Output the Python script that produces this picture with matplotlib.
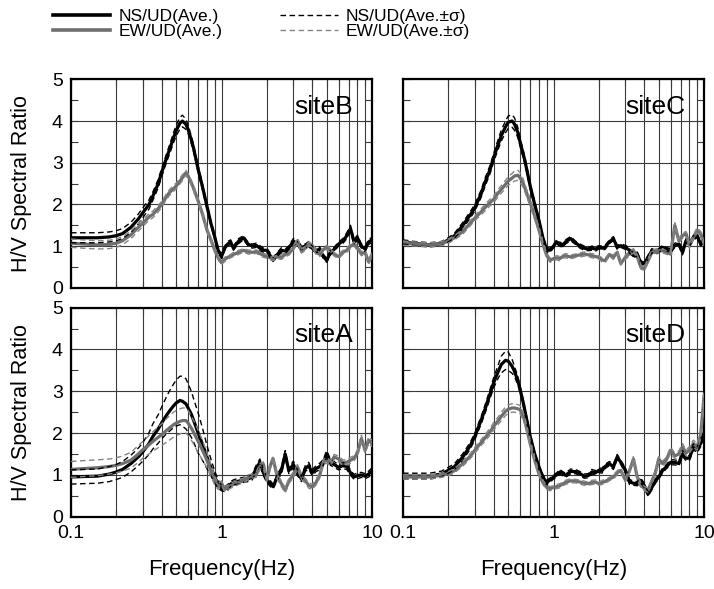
import numpy as np
import matplotlib
matplotlib.use("Agg")
import matplotlib.pyplot as plt
from matplotlib.lines import Line2D
from matplotlib.ticker import FixedLocator, FixedFormatter, NullFormatter, MultipleLocator

plt.rcParams['font.family'] = ['Liberation Sans', 'DejaVu Sans']

# -------------------------
# DATA
# -------------------------
FREQ = [0.10, 0.12, 0.15, 0.18, 0.20, 0.22, 0.25, 0.28, 0.30, 0.33, 0.35, 0.38, 0.40, 0.43, 0.45,
        0.48, 0.50, 0.53, 0.55, 0.58, 0.60, 0.63, 0.65, 0.70, 0.75, 0.80, 0.85, 0.90, 0.95,
        1.0, 1.05, 1.1, 1.15, 1.2, 1.3, 1.4, 1.5, 1.6, 1.7, 1.8, 1.9, 2.0, 2.1, 2.2, 2.35, 2.5,
        2.65, 2.8, 3.0, 3.2, 3.4, 3.6, 3.8, 4.0, 4.25, 4.5, 4.75, 5.0, 5.3, 5.6, 6.0, 6.4, 6.8,
        7.2, 7.6, 8.0, 8.5, 9.0, 9.5, 10.0]

# siteB
ns_b = [1.20, 1.20, 1.20, 1.22, 1.25, 1.30, 1.45, 1.65, 1.80, 2.00, 2.20, 2.50, 2.76, 3.10, 3.30,
        3.60, 3.77, 3.95, 4.00, 3.92, 3.80, 3.55, 3.37, 2.84, 2.40, 1.96, 1.55, 1.23, 0.90,
        0.75, 0.95, 1.05, 1.10, 0.95, 1.12, 1.20, 1.05, 1.00, 1.02, 0.95, 0.90, 0.90, 0.78, 0.68,
        0.80, 0.90, 0.88, 0.95, 1.12, 1.05, 0.97, 1.00, 1.05, 0.95, 0.90, 0.92, 0.75, 0.66, 0.85,
        0.92, 1.05, 1.12, 1.25, 1.42, 1.10, 1.20, 1.00, 0.93, 1.10, 1.15]
ns_b_sd = [0.12, 0.12, 0.12, 0.12, 0.12, 0.12, 0.12, 0.12, 0.12, 0.11, 0.10, 0.10, 0.10, 0.10, 0.11,
           0.12, 0.13, 0.14, 0.14, 0.12, 0.10, 0.09, 0.08, 0.08, 0.07, 0.06, 0.05, 0.05, 0.05,
           0.05, 0.05, 0.06, 0.05, 0.05, 0.06, 0.05, 0.04, 0.05, 0.05, 0.06, 0.05, 0.05, 0.06, 0.05,
           0.05, 0.06, 0.05, 0.05, 0.06, 0.06, 0.05, 0.05, 0.06, 0.05, 0.05, 0.06, 0.05, 0.05, 0.06,
           0.05, 0.05, 0.06, 0.07, 0.08, 0.06, 0.06, 0.05, 0.06, 0.06, 0.06]
ew_b = [1.07, 1.05, 1.03, 1.04, 1.07, 1.13, 1.27, 1.45, 1.55, 1.70, 1.76, 1.90, 2.00, 2.18, 2.28,
        2.38, 2.44, 2.56, 2.64, 2.76, 2.68, 2.52, 2.40, 2.08, 1.75, 1.39, 1.15, 0.91, 0.72,
        0.60, 0.68, 0.73, 0.76, 0.80, 0.85, 0.90, 0.86, 0.85, 0.87, 0.82, 0.78, 0.75, 0.72, 0.70,
        0.74, 0.73, 0.80, 0.82, 0.95, 1.13, 0.88, 0.95, 1.05, 1.02, 0.85, 0.80, 0.92, 0.97, 0.90,
        0.80, 0.75, 0.85, 0.90, 1.00, 1.05, 0.95, 0.82, 0.85, 0.62, 0.80]
ew_b_sd = [0.10, 0.10, 0.10, 0.10, 0.10, 0.10, 0.09, 0.09, 0.08, 0.08, 0.08, 0.08, 0.07, 0.07, 0.07,
           0.07, 0.07, 0.07, 0.07, 0.06, 0.06, 0.06, 0.06, 0.06, 0.05, 0.05, 0.05, 0.05, 0.05,
           0.04, 0.05, 0.05, 0.04, 0.05, 0.05, 0.04, 0.05, 0.05, 0.04, 0.05, 0.05, 0.04, 0.05, 0.05,
           0.04, 0.05, 0.05, 0.04, 0.05, 0.06, 0.05, 0.05, 0.05, 0.04, 0.05, 0.05, 0.05, 0.05, 0.05,
           0.04, 0.05, 0.05, 0.05, 0.06, 0.05, 0.05, 0.05, 0.05, 0.05, 0.05]

# siteC
ns_c = [1.10, 1.06, 1.03, 1.06, 1.15, 1.25, 1.50, 1.75, 1.92, 2.25, 2.52, 2.85, 3.12, 3.45, 3.65,
        3.86, 3.97, 4.00, 3.93, 3.72, 3.49, 3.20, 3.00, 2.44, 2.00, 1.62, 1.20, 0.92, 0.90,
        1.00, 1.10, 1.05, 1.01, 1.10, 1.18, 1.08, 1.00, 0.95, 0.93, 0.95, 0.93, 0.97, 0.95, 0.97,
        1.10, 1.18, 0.97, 1.01, 0.97, 0.90, 0.77, 0.81, 0.60, 0.57, 0.73, 0.89, 0.85, 0.89, 0.97,
        0.93, 0.89, 1.02, 1.05, 0.85, 1.13, 1.05, 1.20, 1.25, 1.05, 1.13]
ns_c_sd = [0.05, 0.05, 0.05, 0.05, 0.05, 0.06, 0.07, 0.08, 0.08, 0.09, 0.10, 0.10, 0.10, 0.12, 0.13,
           0.14, 0.15, 0.15, 0.15, 0.12, 0.10, 0.09, 0.08, 0.07, 0.06, 0.06, 0.05, 0.05, 0.05,
           0.04, 0.05, 0.05, 0.04, 0.05, 0.05, 0.04, 0.05, 0.05, 0.04, 0.05, 0.05, 0.04, 0.05, 0.05,
           0.04, 0.05, 0.05, 0.04, 0.05, 0.06, 0.05, 0.05, 0.05, 0.04, 0.05, 0.05, 0.05, 0.05, 0.05,
           0.04, 0.05, 0.05, 0.05, 0.06, 0.05, 0.05, 0.05, 0.05, 0.05, 0.05]
ew_c = [1.07, 1.05, 1.03, 1.06, 1.12, 1.20, 1.35, 1.55, 1.67, 1.82, 1.92, 2.05, 2.12, 2.28, 2.36,
        2.48, 2.56, 2.63, 2.68, 2.70, 2.64, 2.50, 2.36, 2.04, 1.72, 1.39, 1.05, 0.78, 0.66,
        0.70, 0.72, 0.70, 0.75, 0.77, 0.74, 0.77, 0.79, 0.81, 0.79, 0.77, 0.75, 0.73, 0.67, 0.65,
        0.80, 0.73, 0.85, 0.58, 0.73, 0.82, 0.89, 0.75, 0.50, 0.45, 0.65, 0.85, 0.88, 0.89, 0.89,
        0.85, 0.81, 1.50, 1.13, 1.25, 1.30, 1.00, 1.21, 1.38, 1.30, 1.05]
ew_c_sd = [0.05, 0.05, 0.05, 0.05, 0.05, 0.05, 0.06, 0.06, 0.06, 0.07, 0.08, 0.08, 0.08, 0.09, 0.09,
           0.10, 0.10, 0.11, 0.12, 0.12, 0.12, 0.10, 0.09, 0.08, 0.07, 0.06, 0.05, 0.05, 0.05,
           0.04, 0.05, 0.05, 0.04, 0.05, 0.05, 0.04, 0.05, 0.05, 0.04, 0.05, 0.05, 0.04, 0.05, 0.05,
           0.04, 0.05, 0.05, 0.04, 0.05, 0.06, 0.05, 0.05, 0.05, 0.04, 0.05, 0.05, 0.05, 0.05, 0.05,
           0.04, 0.05, 0.06, 0.05, 0.06, 0.05, 0.05, 0.05, 0.06, 0.05, 0.05]

# siteA
ns_a = [0.95, 0.96, 0.97, 1.02, 1.07, 1.13, 1.27, 1.43, 1.55, 1.75, 1.92, 2.10, 2.24, 2.42, 2.52,
        2.65, 2.72, 2.78, 2.76, 2.70, 2.60, 2.45, 2.32, 2.00, 1.72, 1.43, 1.18, 0.95, 0.78,
        0.68, 0.66, 0.70, 0.78, 0.82, 0.85, 0.88, 0.90, 0.95, 1.15, 1.30, 1.05, 0.88, 0.80, 0.72,
        0.95, 1.10, 1.50, 1.10, 1.25, 1.05, 0.90, 1.15, 1.22, 1.05, 1.15, 1.20, 1.30, 1.50, 1.30,
        1.25, 1.18, 1.22, 1.20, 1.05, 0.95, 0.98, 1.00, 0.97, 1.02, 1.10]
ns_a_sd = [0.17, 0.17, 0.17, 0.18, 0.18, 0.19, 0.20, 0.21, 0.22, 0.26, 0.30, 0.34, 0.38, 0.44, 0.48,
           0.52, 0.55, 0.58, 0.60, 0.60, 0.58, 0.55, 0.52, 0.48, 0.38, 0.28, 0.20, 0.15, 0.10,
           0.06, 0.06, 0.07, 0.06, 0.06, 0.07, 0.06, 0.06, 0.07, 0.08, 0.08, 0.07, 0.06, 0.07, 0.06,
           0.07, 0.08, 0.08, 0.07, 0.08, 0.07, 0.06, 0.07, 0.08, 0.07, 0.07, 0.08, 0.07, 0.08, 0.07,
           0.07, 0.06, 0.07, 0.07, 0.06, 0.06, 0.07, 0.06, 0.06, 0.07, 0.07]
ew_a = [1.13, 1.15, 1.17, 1.20, 1.23, 1.27, 1.35, 1.50, 1.60, 1.72, 1.80, 1.90, 1.96, 2.06, 2.12,
        2.20, 2.24, 2.28, 2.30, 2.30, 2.24, 2.12, 2.03, 1.80, 1.58, 1.35, 1.10, 0.87, 0.72,
        0.80, 0.66, 0.70, 0.74, 0.77, 0.82, 0.86, 0.94, 0.97, 1.00, 1.20, 1.25, 0.88, 1.20, 1.39,
        0.95, 0.79, 0.63, 0.85, 1.00, 1.19, 0.95, 0.86, 0.75, 0.71, 0.82, 1.00, 1.31, 1.35, 1.28,
        1.43, 1.38, 1.30, 1.30, 1.35, 1.40, 1.52, 1.87, 1.59, 1.83, 1.75]
ew_a_sd = [0.19, 0.19, 0.19, 0.18, 0.18, 0.18, 0.19, 0.20, 0.20, 0.22, 0.23, 0.25, 0.26, 0.28, 0.29,
           0.30, 0.30, 0.30, 0.30, 0.30, 0.30, 0.29, 0.28, 0.27, 0.23, 0.18, 0.14, 0.10, 0.07,
           0.06, 0.06, 0.05, 0.06, 0.06, 0.05, 0.06, 0.06, 0.05, 0.06, 0.07, 0.06, 0.06, 0.07, 0.06,
           0.06, 0.07, 0.06, 0.06, 0.07, 0.06, 0.06, 0.06, 0.07, 0.06, 0.06, 0.07, 0.06, 0.07, 0.06,
           0.06, 0.07, 0.06, 0.06, 0.07, 0.06, 0.07, 0.08, 0.07, 0.08, 0.08]

# siteD
ns_d = [0.97, 0.97, 0.97, 1.02, 1.11, 1.20, 1.43, 1.70, 1.92, 2.30, 2.56, 2.95, 3.20, 3.48, 3.64,
        3.74, 3.72, 3.60, 3.48, 3.25, 3.04, 2.72, 2.48, 1.92, 1.50, 1.19, 0.95, 0.82, 0.88,
        0.95, 1.00, 1.07, 1.03, 0.99, 1.08, 1.08, 1.03, 0.97, 0.98, 1.07, 1.05, 1.11, 1.10, 1.20,
        1.27, 1.19, 1.43, 1.30, 1.11, 0.83, 0.80, 0.79, 0.87, 0.75, 0.54, 0.70, 0.85, 0.95, 1.10,
        1.19, 1.30, 1.30, 1.27, 1.51, 1.40, 1.40, 1.67, 1.60, 1.75, 2.00]
ns_d_sd = [0.07, 0.07, 0.07, 0.07, 0.07, 0.07, 0.08, 0.08, 0.08, 0.09, 0.10, 0.11, 0.12, 0.16, 0.20,
           0.22, 0.22, 0.17, 0.12, 0.10, 0.08, 0.07, 0.07, 0.06, 0.05, 0.05, 0.05, 0.05, 0.05,
           0.05, 0.05, 0.06, 0.05, 0.05, 0.06, 0.05, 0.05, 0.05, 0.05, 0.06, 0.05, 0.05, 0.06, 0.05,
           0.05, 0.06, 0.06, 0.05, 0.06, 0.06, 0.05, 0.05, 0.06, 0.05, 0.05, 0.06, 0.05, 0.05, 0.06,
           0.05, 0.06, 0.06, 0.06, 0.07, 0.06, 0.06, 0.07, 0.07, 0.08, 0.08]
ew_d = [0.95, 0.95, 0.95, 0.99, 1.03, 1.10, 1.27, 1.45, 1.59, 1.77, 1.88, 2.04, 2.16, 2.30, 2.40,
        2.52, 2.57, 2.60, 2.60, 2.58, 2.56, 2.40, 2.24, 1.75, 1.35, 1.03, 0.82, 0.70, 0.67,
        0.70, 0.72, 0.74, 0.78, 0.82, 0.86, 0.85, 0.83, 0.80, 0.79, 0.82, 0.83, 0.79, 0.82, 0.84,
        0.90, 0.95, 1.05, 1.11, 0.88, 1.10, 1.38, 0.95, 0.75, 0.68, 0.63, 0.85, 1.05, 1.38, 1.27,
        1.35, 1.59, 1.45, 1.50, 1.67, 1.52, 1.60, 1.75, 1.67, 1.95, 2.87]
ew_d_sd = [0.05, 0.05, 0.05, 0.05, 0.05, 0.05, 0.06, 0.06, 0.07, 0.07, 0.08, 0.08, 0.09, 0.09, 0.10,
           0.10, 0.10, 0.10, 0.10, 0.10, 0.10, 0.09, 0.08, 0.06, 0.05, 0.05, 0.05, 0.05, 0.05,
           0.04, 0.05, 0.05, 0.04, 0.05, 0.05, 0.04, 0.05, 0.05, 0.04, 0.05, 0.05, 0.04, 0.05, 0.05,
           0.04, 0.05, 0.05, 0.05, 0.05, 0.06, 0.06, 0.05, 0.05, 0.05, 0.05, 0.05, 0.06, 0.06, 0.06,
           0.06, 0.07, 0.07, 0.07, 0.08, 0.07, 0.08, 0.08, 0.08, 0.09, 0.10]

SITES = {
    "siteB": (ns_b, ns_b_sd, ew_b, ew_b_sd),
    "siteC": (ns_c, ns_c_sd, ew_c, ew_c_sd),
    "siteA": (ns_a, ns_a_sd, ew_a, ew_a_sd),
    "siteD": (ns_d, ns_d_sd, ew_d, ew_d_sd),
}
PANEL_ORDER = ["siteB", "siteC", "siteA", "siteD"]

X_TICKS = [0.1, 1, 10]
X_TICK_LABELS = ["0.1", "1", "10"]
Y_TICKS = [0, 1, 2, 3, 4, 5]

LEGEND_LABELS = ["NS/UD(Ave.)", "EW/UD(Ave.)", "NS/UD(Ave.\u00b1\u03c3)", "EW/UD(Ave.\u00b1\u03c3)"]

# -------------------------
# STYLE
# -------------------------
BLACK = "#000000"
GRAY = "#6e6e6e"
GRAY_D = "#858585"
DASH = (4, 2.5)
GRID_C = "#3a3a3a"

fig = plt.figure(figsize=(7.14, 5.89), dpi=100)

W = 301 / 714
positions = {
    "siteB": [71 / 714, 1 - 287.8 / 589, W, 208.5 / 589],
    "siteC": [403 / 714, 1 - 287.8 / 589, W, 208.5 / 589],
    "siteA": [71 / 714, 1 - 516.7 / 589, W, 209.1 / 589],
    "siteD": [403 / 714, 1 - 516.7 / 589, W, 209.1 / 589],
}

f = np.array(FREQ)
for name in PANEL_ORDER:
    ax = fig.add_axes(positions[name])
    ns, nsd, ew, esd = [np.array(v) for v in SITES[name]]

    ax.plot(f, ns, color=BLACK, lw=2.3, zorder=3)
    ax.plot(f, ew, color=GRAY, lw=2.3, zorder=3)
    ax.plot(f, ns + nsd, color=BLACK, lw=1.0, dashes=DASH, zorder=4)
    ax.plot(f, ns - nsd, color=BLACK, lw=1.0, dashes=DASH, zorder=4)
    ax.plot(f, ew + esd, color=GRAY_D, lw=1.0, dashes=DASH, zorder=4)
    ax.plot(f, ew - esd, color=GRAY_D, lw=1.0, dashes=DASH, zorder=4)

    ax.set_xscale("log")
    ax.set_xlim(0.1, 10)
    ax.set_ylim(0, 5)
    ax.xaxis.set_major_locator(FixedLocator(X_TICKS))
    ax.xaxis.set_minor_locator(FixedLocator([0.2, 0.3, 0.4, 0.5, 0.6, 0.7, 0.8, 0.9,
                                             2, 3, 4, 5, 6, 7, 8, 9]))
    ax.xaxis.set_minor_formatter(NullFormatter())
    ax.yaxis.set_major_locator(FixedLocator(Y_TICKS))
    ax.yaxis.set_minor_locator(MultipleLocator(0.5))

    ax.grid(True, which="major", axis="both", color=GRID_C, lw=0.8)
    ax.grid(True, which="minor", axis="x", color=GRID_C, lw=0.8)
    ax.tick_params(which="both", direction="in", top=True, right=True,
                   labelsize=14, width=0.8, color=GRID_C)
    ax.tick_params(which="major", length=5, pad=6)
    ax.tick_params(which="minor", length=5)
    for s in ax.spines.values():
        s.set_linewidth(1.6)

    if name in ("siteA", "siteD"):
        ax.xaxis.set_major_formatter(FixedFormatter(X_TICK_LABELS))
        ax.set_xlabel("Frequency(Hz)", fontsize=16, labelpad=12)
    else:
        ax.xaxis.set_major_formatter(NullFormatter())
    if name in ("siteB", "siteA"):
        ax.set_ylabel("H/V Spectral Ratio", fontsize=15.5, labelpad=14)
    else:
        ax.yaxis.set_major_formatter(NullFormatter())

    ax.text(0.938, 4.17, name, transform=ax.get_yaxis_transform(), fontsize=19,
            ha="right", va="baseline", zorder=5)

# -------------------------
# LEGEND (figure top)
# -------------------------
handles = [
    Line2D([], [], color=BLACK, lw=2.6),
    Line2D([], [], color=GRAY, lw=2.6),
    Line2D([], [], color=BLACK, lw=1.0, dashes=DASH),
    Line2D([], [], color=GRAY_D, lw=1.0, dashes=DASH),
]
fig.legend(handles, LEGEND_LABELS, ncol=2, loc="upper left",
           bbox_to_anchor=(41 / 714, 1 + 3 / 589), frameon=False, fontsize=12.5,
           handlelength=3.3, handletextpad=0.45, columnspacing=3.35, labelspacing=0.0,
           borderpad=0.2)

fig.savefig("out.png", dpi=100)
